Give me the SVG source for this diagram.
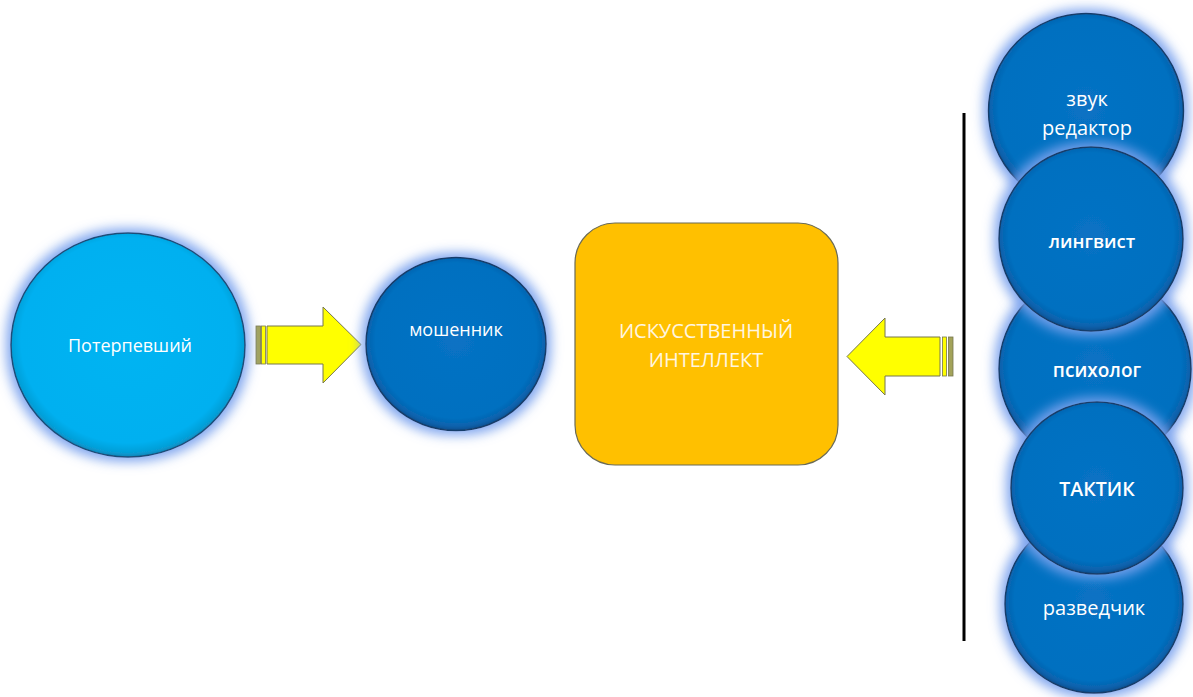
<svg xmlns="http://www.w3.org/2000/svg" width="1193" height="697" viewBox="0 0 1193 697">
<style>
.lbl{font-family:"Open Sans","Liberation Sans",sans-serif;fill:#ffffff;text-anchor:middle;font-size:18px}
.b{font-weight:600}
.r20{font-size:20px}
.ai{fill:#FFF6E0;font-size:20px}
.dark{fill:url(#gDark);stroke:#163e6a;stroke-width:1.5}
.light{fill:url(#gLight);stroke:#1b4d78;stroke-width:1.5}
.arrow{fill:#FFFF00;stroke:#76764e;stroke-width:1}
.barO{fill:#a3a35a;stroke:#76764e;stroke-width:0.8}
.barY{fill:#FFFF00;stroke:#76764e;stroke-width:0.8}
</style>
<defs>
<filter id="glow" x="-30%" y="-30%" width="160%" height="160%">
<feMorphology in="SourceAlpha" operator="dilate" radius="4" result="d"/>
<feGaussianBlur in="d" stdDeviation="6" result="b"/>
<feFlood flood-color="#7aa2ee" flood-opacity="0.95"/>
<feComposite in2="b" operator="in" result="g"/>
<feMerge><feMergeNode in="g"/><feMergeNode in="SourceGraphic"/></feMerge>
</filter>
<radialGradient id="gDark" cx="50%" cy="48%" r="52%">
<stop offset="0" stop-color="#0872c4"/>
<stop offset="0.86" stop-color="#0070C0"/>
<stop offset="0.95" stop-color="#0a62ad"/>
<stop offset="1" stop-color="#0d4f8f"/>
</radialGradient>
<radialGradient id="gLight" cx="50%" cy="48%" r="52%">
<stop offset="0" stop-color="#00b4f2"/>
<stop offset="0.88" stop-color="#00B0F0"/>
<stop offset="0.96" stop-color="#069fd8"/>
<stop offset="1" stop-color="#0b85b8"/>
</radialGradient>
</defs>
<rect width="1193" height="697" fill="#ffffff"/>

<g id="connectors">
<g id="arrow1">
<rect class="barO" x="256" y="326" width="4.5" height="38"/>
<rect class="barY" x="261.5" y="326" width="4" height="38"/>
<path class="arrow" d="M267,326 H323 V307 L361,344.5 L323,383 V364 H267 Z"/>
</g>
<g id="arrow2">
<path class="arrow" d="M940,337 H885 V318 L847,356.5 L885,395 V376 H940 Z"/>
<rect class="barY" x="942.5" y="337" width="4" height="39"/>
<rect class="barO" x="948.5" y="337" width="4.5" height="39"/>
</g>
<line id="divider" x1="964" y1="113" x2="964" y2="641" stroke="#000000" stroke-width="3"/>
</g>

<g id="victim">
<ellipse class="light" cx="128" cy="345" rx="117" ry="112" filter="url(#glow)"/>
<text class="lbl" x="130" y="352">Потерпевший</text>
</g>

<g id="fraudster">
<ellipse class="dark" cx="456" cy="344" rx="90" ry="86.5" filter="url(#glow)"/>
<text class="lbl" x="456" y="336">мошенник</text>
</g>

<g id="ai">
<rect x="575" y="223" width="263" height="242" rx="40" ry="40" fill="#FFC000" stroke="#6b6b55" stroke-width="1.2"/>
<text class="lbl ai" x="706" y="338">ИСКУССТВЕННЫЙ</text>
<text class="lbl ai" x="706" y="367">ИНТЕЛЛЕКТ</text>
</g>

<g id="sound-editor">
<circle class="dark" cx="1086" cy="111" r="97.5" filter="url(#glow)"/>
<text class="lbl r20" x="1087" y="106">звук</text>
<text class="lbl r20" x="1087" y="135">редактор</text>
</g>

<g id="psychologist">
<circle class="dark" cx="1095" cy="369" r="96" filter="url(#glow)"/>
<text class="lbl b" x="1097" y="377" style="font-size:19px">психолог</text>
</g>

<g id="scout">
<circle class="dark" cx="1094" cy="604" r="89" filter="url(#glow)"/>
<text class="lbl r20" x="1094" y="615">разведчик</text>
</g>

<g id="linguist">
<circle class="dark" cx="1091" cy="239" r="92" filter="url(#glow)"/>
<text class="lbl b" x="1092" y="248" style="font-size:18.5px">лингвист</text>
</g>

<g id="tactician">
<circle class="dark" cx="1097" cy="488" r="86" filter="url(#glow)"/>
<text class="lbl b" x="1097" y="496" style="font-size:19.5px">ТАКТИК</text>
</g>
</svg>
